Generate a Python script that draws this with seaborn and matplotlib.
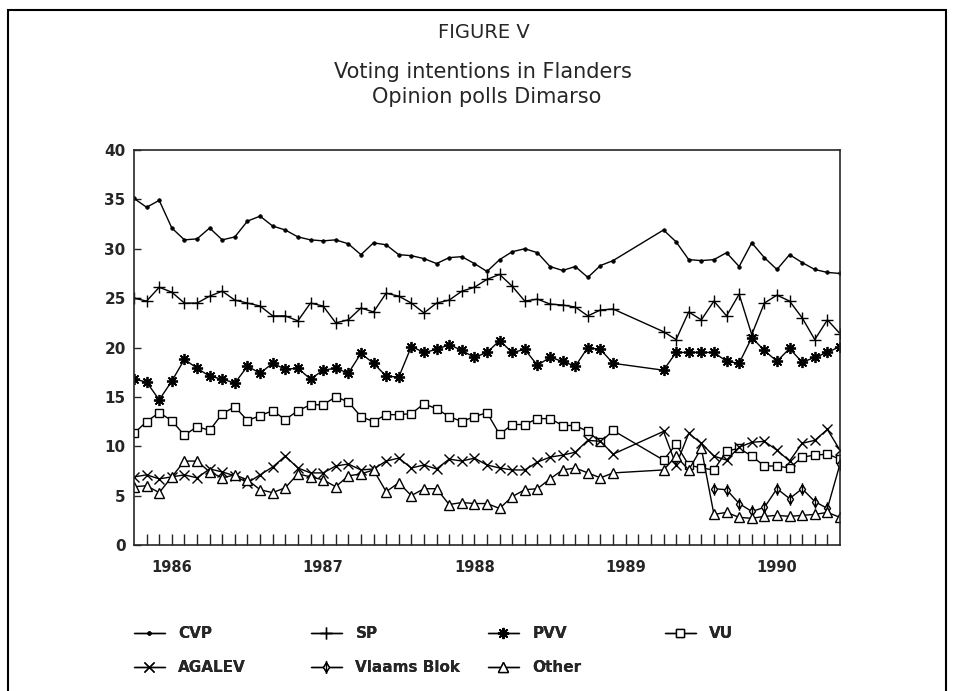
import numpy as np
import pandas as pd
import seaborn as sns
import matplotlib.pyplot as plt
from matplotlib.patches import Rectangle
from matplotlib.path import Path

# monthly Dimarso polls: Oct 1985 - Dec 1988, then Apr 1989 - Jun 1990 (no polls Jan-Mar 1989)
months = list(pd.period_range("1985-10", "1988-12", freq="M")) + \
    list(pd.period_range("1989-04", "1990-06", freq="M"))
vb_months = list(pd.period_range("1989-08", "1990-06", freq="M"))

cvp = [35.1, 34.2, 34.9, 32.1, 30.9, 31.0, 32.1, 30.9, 31.2, 32.8, 33.3, 32.3, 31.9, 31.2,
       30.9, 30.8, 30.9, 30.5, 29.4, 30.6, 30.4, 29.4,
       29.3, 29.0, 28.5, 29.1, 29.2, 28.5, 27.7, 28.9, 29.7, 30.0, 29.6, 28.2, 27.8, 28.2,
       27.1, 28.3, 28.8,
       31.9, 30.7, 28.9, 28.8, 28.9, 29.6, 28.2, 30.6, 29.1, 27.9, 29.4, 28.6, 27.9, 27.6, 27.5]
sp = [25.0, 24.7, 26.1, 25.6, 24.5, 24.5, 25.2, 25.7, 24.8, 24.5, 24.2, 23.2, 23.2, 22.7,
      24.5, 24.2, 22.5, 22.8, 24.0, 23.6, 25.5, 25.2,
      24.5, 23.5, 24.5, 24.8, 25.7, 26.1, 26.9, 27.4, 26.2, 24.7, 24.9, 24.4, 24.3, 24.1,
      23.2, 23.8, 23.9,
      21.6, 20.8, 23.6, 22.8, 24.7, 23.2, 25.4, 21.3, 24.5, 25.3, 24.7, 23.0, 20.8, 22.8, 21.4]
pvv = [16.8, 16.5, 14.7, 16.6, 18.8, 17.9, 17.1, 16.8, 16.4, 18.1, 17.4, 18.4, 17.8, 17.9,
       16.8, 17.7, 17.9, 17.4, 19.4, 18.4, 17.1, 17.0,
       20.1, 19.5, 19.8, 20.3, 19.7, 19.0, 19.5, 20.7, 19.5, 19.8, 18.2, 19.0, 18.6, 18.1,
       20.0, 19.8, 18.4,
       17.7, 19.5, 19.5, 19.5, 19.5, 18.6, 18.4, 21.0, 19.7, 18.6, 19.9, 18.5, 19.0, 19.5, 20.1]
vu = [11.3, 12.5, 13.4, 12.6, 11.1, 12.0, 11.6, 13.3, 14.0, 12.6, 13.1, 13.6, 12.7, 13.6,
      14.2, 14.2, 15.0, 14.5, 13.0, 12.5, 13.2, 13.2,
      13.3, 14.3, 13.8, 13.0, 12.5, 13.0, 13.4, 11.2, 12.2, 12.2, 12.8, 12.8, 12.1, 12.1,
      11.5, 10.4, 11.6,
      8.6, 10.2, 8.1, 7.8, 7.6, 9.5, 9.8, 9.0, 8.0, 8.0, 7.8, 8.9, 9.1, 9.2, 8.7]
agalev = [6.9, 7.1, 6.7, 6.9, 7.1, 6.8, 7.7, 7.4, 7.0, 6.3, 7.1, 7.9, 9.0, 7.8,
          7.3, 7.3, 8.0, 8.2, 7.6, 7.7, 8.5, 8.8,
          7.8, 8.1, 7.7, 8.7, 8.5, 8.8, 8.1, 7.8, 7.6, 7.6, 8.4, 8.9, 9.1, 9.4,
          10.6, 10.5, 9.2,
          11.5, 8.1, 11.3, 10.3, 9.0, 8.6, 9.9, 10.4, 10.5, 9.6, 8.5, 10.3, 10.6, 11.7, 9.6]
other = [5.9, 6.0, 5.3, 6.9, 8.5, 8.5, 7.4, 6.8, 7.1, 6.6, 5.6, 5.3, 5.8, 7.2,
         6.9, 6.6, 5.9, 7.0, 7.2, 7.6, 5.4, 6.3,
         5.0, 5.7, 5.7, 4.1, 4.3, 4.2, 4.2, 3.7, 4.9, 5.6, 5.7, 6.7, 7.6, 7.8,
         7.3, 6.8, 7.3,
         7.6, 9.0, 7.6, 9.8, 3.1, 3.3, 2.8, 2.7, 2.9, 3.0, 2.9, 3.0, 3.1, 3.3, 2.8]
vlaams_blok = [5.7, 5.6, 4.2, 3.4, 3.8, 5.7, 4.7, 5.7, 4.4, 3.7, 8.2]

year_labels = ["1986", "1987", "1988", "1989", "1990"]


def to_year(p):
    return p.year + (p.month - 1) / 12


rows = []
for party, vals, mon in [("CVP", cvp, months), ("SP", sp, months), ("PVV", pvv, months),
                         ("VU", vu, months), ("AGALEV", agalev, months),
                         ("Vlaams Blok", vlaams_blok, vb_months), ("Other", other, months)]:
    for p, v in zip(mon, vals):
        rows.append({"party": party, "year": to_year(p), "share": v})
df = pd.DataFrame(rows)

# diamond with a vertical stroke through it, as in the original legend
diamond_bar = Path([(0, 1), (0.65, 0), (0, -1), (-0.65, 0), (0, 1), (0, 1.35), (0, -1.35)],
                   [Path.MOVETO, Path.LINETO, Path.LINETO, Path.LINETO, Path.CLOSEPOLY,
                    Path.MOVETO, Path.LINETO])

styles = {
    "CVP": dict(marker="o", ms=2.6, mfc="black", mew=0.5),
    "SP": dict(marker="+", ms=8.5, mew=1.0),
    "PVV": dict(marker=(8, 2, 0), ms=8, mew=1.3),
    "VU": dict(marker="s", ms=6, mfc="white", mew=1.0),
    "AGALEV": dict(marker="x", ms=7, mew=1.0),
    "Vlaams Blok": dict(marker=diamond_bar, ms=9, mfc="white", mew=1.0),
    "Other": dict(marker="^", ms=6.5, mfc="white", mew=1.0),
}

sns.set_style("ticks")
plt.rcParams["font.family"] = ["DejaVu Sans"]

W, H = 956, 691
fig = plt.figure(figsize=(W / 100, H / 100), dpi=100)
ax = fig.add_axes([134 / W, 1 - 545 / H, (840 - 134) / W, (545 - 150) / H])

for party in styles:
    sns.lineplot(data=df[df.party == party], x="year", y="share", ax=ax, color="black",
                 lw=1.0, errorbar=None, label=party, mec="black", **styles[party])

x0 = to_year(months[0])
x1 = to_year(months[-1])
ax.set_xlim(x0, x1)
ax.set_ylim(0, 40)

tick_pos = [x0 + i / 12 for i in range(1, 56)]
tick_lab = []
for t in tick_pos:
    lab = ""
    for y in year_labels:
        if abs(t - int(y)) < 1e-6:
            lab = y
    tick_lab.append(lab)
ax.set_xticks(tick_pos)
ax.set_xticklabels(tick_lab, fontweight="bold", fontsize=10.5)
ax.set_yticks(range(0, 41, 5))
ax.set_yticklabels([str(v) for v in range(0, 41, 5)], fontweight="bold", fontsize=11)
ax.tick_params(axis="x", direction="in", length=8, width=1, pad=11)
ax.tick_params(axis="y", direction="in", length=5, width=1, pad=6)
ax.set_xlabel("")
ax.set_ylabel("")
for s in ax.spines.values():
    s.set_linewidth(1.2)

# legend: 4 fixed-width columns, 2 rows
handles, labels = ax.get_legend_handles_labels()
ax.get_legend().remove()
hmap = dict(zip(labels, handles))
columns = [["CVP", "AGALEV"], ["SP", "Vlaams Blok"], ["PVV", "Other"], ["VU"]]
col_x = [128, 305, 482, 659]
for cx, col in zip(col_x, columns):
    leg = fig.legend([hmap[c] for c in col], col, loc="upper left",
                     bbox_to_anchor=(cx / W, 1 - 620 / H), frameon=False,
                     handlelength=2.0, handletextpad=0.9, labelspacing=1.25,
                     borderaxespad=0, prop={"weight": "bold", "size": 11})
    fig.add_artist(leg)

title_font = dict(family="DejaVu Sans", ha="center", va="center")
fig.text(484 / W, 1 - 33 / H, "FIGURE V", fontsize=14, **title_font)
fig.text(483 / W, 1 - 72 / H, "Voting intentions in Flanders", fontsize=15, **title_font)
fig.text(487 / W, 1 - 97 / H, "Opinion polls Dimarso", fontsize=15, **title_font)

# page frame of the scanned figure
fig.add_artist(Rectangle((8 / W, -0.1), (946 - 8) / W, 1.1 - 10 / H, transform=fig.transFigure,
                         fill=False, lw=1.5, ec="black", clip_on=False))

fig.savefig("out.png", dpi=100)
